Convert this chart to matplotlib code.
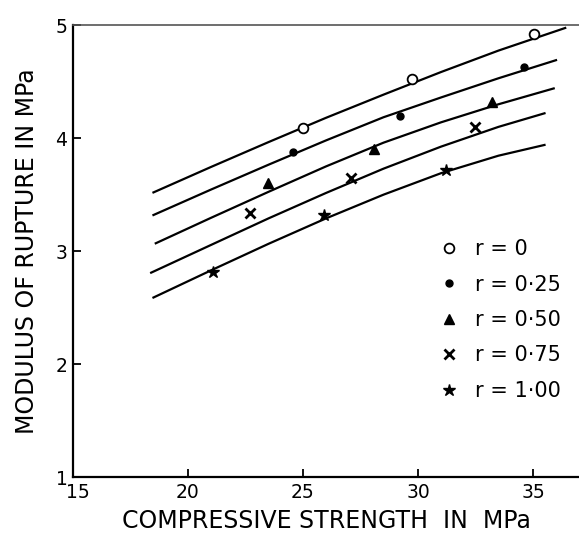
import matplotlib
matplotlib.use("Agg")
import matplotlib.pyplot as plt
import matplotlib.transforms as mtransforms
from matplotlib.lines import Line2D

# fitted curves
curve_x = {
    "0": [18.5, 21.0, 23.5, 26.0, 28.5, 31.0, 33.5, 36.4],
    "0.25": [18.5, 21.0, 23.5, 26.0, 28.5, 31.0, 33.5, 36.0],
    "0.50": [18.6, 21.0, 23.5, 26.0, 28.5, 31.0, 33.5, 35.9],
    "0.75": [18.4, 21.0, 23.5, 26.0, 28.5, 31.0, 33.5, 35.5],
    "1.00": [18.5, 21.0, 23.5, 26.0, 28.5, 31.0, 33.5, 35.5],
}
curve_y = {
    "0": [3.52, 3.745, 3.965, 4.18, 4.385, 4.585, 4.775, 4.975],
    "0.25": [3.32, 3.545, 3.765, 3.98, 4.185, 4.36, 4.53, 4.69],
    "0.50": [3.07, 3.295, 3.525, 3.75, 3.96, 4.14, 4.30, 4.44],
    "0.75": [2.81, 3.055, 3.29, 3.515, 3.73, 3.925, 4.10, 4.22],
    "1.00": [2.59, 2.83, 3.065, 3.29, 3.50, 3.69, 3.845, 3.94],
}

# measured points
pts_x = {
    "0": [25.0, 29.76, 35.04],
    "0.25": [24.56, 29.2, 34.6],
    "0.50": [23.5, 28.1, 33.2],
    "0.75": [22.7, 27.1, 32.5],
    "1.00": [21.1, 25.9, 31.2],
}
pts_y = {
    "0": [4.09, 4.52, 4.92],
    "0.25": [3.88, 4.20, 4.63],
    "0.50": [3.60, 3.90, 4.32],
    "0.75": [3.34, 3.65, 4.10],
    "1.00": [2.82, 3.32, 3.72],
}

legend_labels = ["r = 0", "r = 0·25", "r = 0·50", "r = 0·75", "r = 1·00"]
xticks = [15, 20, 25, 30, 35]
yticks = [1, 2, 3, 4, 5]

styles = {
    "0": dict(marker="o", mfc="white", ms=7, mew=1.3),
    "0.25": dict(marker="o", mfc="black", ms=5, mew=1),
    "0.50": dict(marker="^", mfc="black", ms=7, mew=1),
    "0.75": dict(marker="x", mfc="black", ms=7, mew=2),
    "1.00": dict(marker="*", mfc="black", ms=9, mew=1),
}

plt.rcParams['font.family'] = ['DejaVu Sans']

fig = plt.figure(figsize=(5.79, 5.35), dpi=100)
ax = fig.add_axes([0.126, 0.108, 0.874, 0.845])

handles = []
for key in curve_x:
    ax.plot(curve_x[key], curve_y[key], color="black", lw=1.6)
    st = styles[key]
    ax.plot(pts_x[key], pts_y[key], ls="none", color="black", mec="black", **st)
    handles.append(Line2D([], [], ls="none", color="black", mec="black", **st))

ax.set_xlim(15, 37.0)
ax.set_ylim(1, 5)
ax.set_xticks(xticks)
ax.set_yticks(yticks)
ax.tick_params(direction="in", length=6, width=1.3, labelsize=13.5, pad=4)

# nudge the "15" label right so it clears the "1"
lbl15 = ax.get_xticklabels()[0]
lbl15.set_transform(lbl15.get_transform() +
                    mtransforms.ScaledTranslation(5 / 100, 0, fig.dpi_scale_trans))

ax.spines["right"].set_visible(False)
ax.spines["top"].set_color("#555555")
ax.spines["top"].set_linewidth(1.2)
ax.spines["left"].set_linewidth(1.6)
ax.spines["bottom"].set_linewidth(1.6)

ax.set_xlabel("COMPRESSIVE STRENGTH  IN  MPa", fontsize=17, labelpad=5)
ax.set_ylabel("MODULUS OF RUPTURE IN MPa", fontsize=17, labelpad=12)

ax.legend(handles, legend_labels, loc="upper left",
          bbox_to_anchor=(0.757, 0.553), bbox_transform=fig.transFigure,
          frameon=False, fontsize=15, handlelength=1.0, handletextpad=0.75,
          labelspacing=0.74, borderpad=0, borderaxespad=0)

fig.savefig("out.png", dpi=100)
